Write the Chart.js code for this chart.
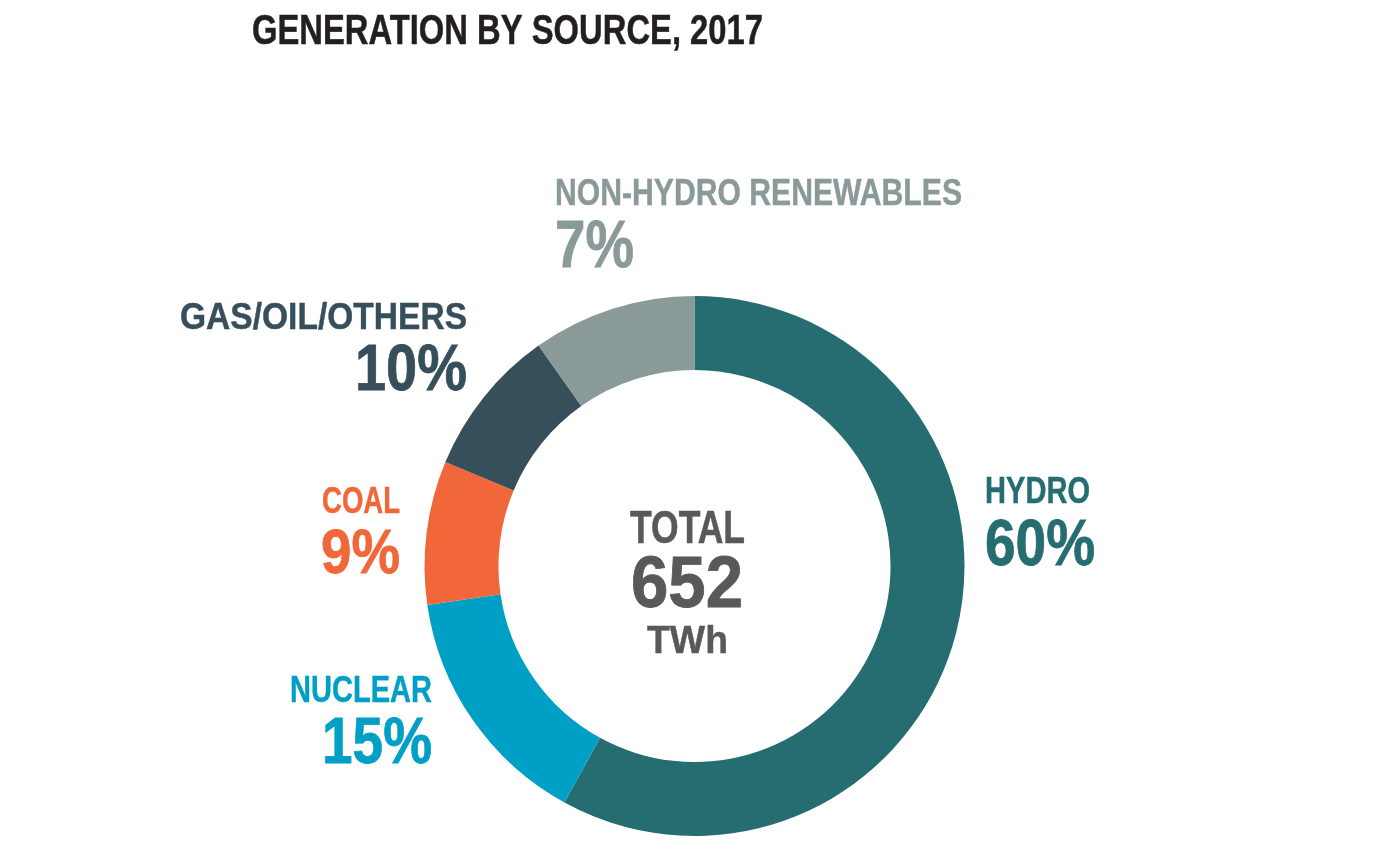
<!DOCTYPE html>
<html lang="en">
<head>
  <meta charset="UTF-8">
  <title>Generation by source, 2017</title>
  <script src="https://cdn.jsdelivr.net/npm/chart.js"></script>
  <style>
    html, body { margin: 0; padding: 0; background: #fff; }
    #wrap { width: 1400px; height: 861px; }
  </style>
</head>
<body>
  <div id="wrap"><canvas id="mix" width="1400" height="861"></canvas></div>
  <script>
    const title = "GENERATION BY SOURCE, 2017";
    const sources = ["HYDRO", "NUCLEAR", "COAL", "GAS/OIL/OTHERS", "NON-HYDRO RENEWABLES"];
    const shares = [58.0, 14.7, 8.6, 8.9, 9.8];
    const shareLabels = ["60%", "15%", "9%", "10%", "7%"];
    const colours = ["#266d72", "#00a0c6", "#f26739", "#374f5b", "#8a9a98"];
    const centreLines = ["TOTAL", "652", "TWh"];

    // where each label sits: [left, right, baseline, cap height] in px
    const nameBoxes = [
      [985, 1090, 503, 26],
      [290, 432, 702, 27],
      [322, 400, 513, 26],
      [180, 467, 329, 27],
      [555, 962, 205, 26]
    ];
    const shareBoxes = [
      [985, 1095, 565, 47],
      [322, 432, 763, 46],
      [321, 400, 573, 45],
      [355, 467, 390, 47],
      [555, 634, 267, 48]
    ];
    const centreBoxes = [
      [630, 745, 543, 33],
      [631, 743, 607, 52],
      [647, 728, 653, 28]
    ];
    const titleBox = [252, 763, 44, 31];

    // draws condensed bold text squeezed into a box
    const fitText = (ctx, text, box, colour) => {
      const [left, right, base, cap] = box;
      const size = cap / 0.716;
      ctx.save();
      ctx.font = "bold " + size + "px 'Liberation Sans', Arial, sans-serif";
      ctx.fillStyle = colour;
      ctx.strokeStyle = colour;
      ctx.lineWidth = size * 0.012;
      ctx.textBaseline = "alphabetic";
      ctx.textAlign = "left";
      const w = ctx.measureText(text).width;
      ctx.translate(left, base);
      ctx.scale((right - left) / w, 1);
      ctx.fillText(text, 0, 0);
      ctx.strokeText(text, 0, 0);
      ctx.restore();
    };

    const labelPlugin = {
      id: "labels",
      afterDraw(chart) {
        const ctx = chart.ctx;
        fitText(ctx, title, titleBox, "#231f20");
        sources.forEach((s, i) => {
          fitText(ctx, s, nameBoxes[i], colours[i]);
          fitText(ctx, shareLabels[i], shareBoxes[i], colours[i]);
        });
        centreLines.forEach((t, i) => fitText(ctx, t, centreBoxes[i], "#58595b"));
      }
    };

    new Chart(document.getElementById("mix").getContext("2d"), {
      type: "doughnut",
      data: {
        labels: sources,
        datasets: [{
          data: shares,
          backgroundColor: colours,
          borderWidth: 0
        }]
      },
      options: {
        responsive: false,
        animation: false,
        cutout: "72.6%",
        layout: { padding: { left: 423, right: 434, top: 296, bottom: 25 } },
        plugins: { legend: { display: false }, tooltip: { enabled: false } }
      },
      plugins: [labelPlugin]
    });
  </script>
</body>
</html>
